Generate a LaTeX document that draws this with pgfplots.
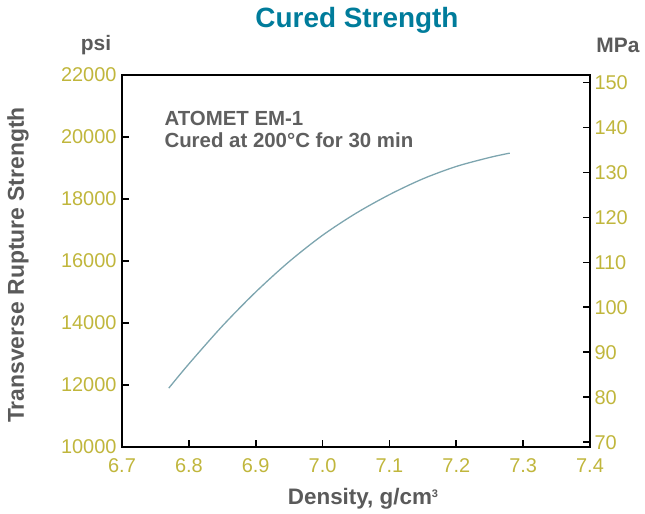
\documentclass[border=0pt]{standalone}
\usepackage{pgfplots}
\pgfplotsset{compat=1.18}
\usepackage{fontspec}
\setmainfont{Liberation Sans}
\definecolor{ticky}{RGB}{192,182,60}
\definecolor{labgray}{RGB}{90,90,90}
\definecolor{notegray}{RGB}{95,95,95}
\definecolor{titleblue}{RGB}{0,124,155}
\definecolor{curve}{RGB}{125,165,175}
\begin{document}
\begin{tikzpicture}
\useasboundingbox (-122bp,-67bp) rectangle (523bp,447bp);
\pgfplotsset{
  every axis/.append style={
    scale only axis, width=468bp, height=372bp,
    at={(0,0)}, anchor=south west,
    axis line style={black, line width=1.8bp},
    major tick style={black, line width=1.8bp},
    major tick length=7bp, tick align=inside,
    minor tick num=0,
    tick label style={font=\fontsize{20}{22}\selectfont, text=ticky},
  }
}
\begin{axis}[
  xmin=6.7, xmax=7.4, ymin=10000, ymax=22000,
  xtick={6.7,6.8,6.9,7.0,7.1,7.2,7.3,7.4},
  xticklabels={6.7,6.8,6.9,7.0,7.1,7.2,7.3,7.4},
  ytick={10000,12000,14000,16000,18000,20000,22000},
  yticklabels={10000,12000,14000,16000,18000,20000,22000},
  xtick pos=bottom, ytick pos=left,
  scaled ticks=false,
  xticklabel style={yshift=-8bp},
  yticklabel style={xshift=-2bp},
]
\addplot[color=curve, line width=1.3bp, smooth] coordinates {
  (6.77, 11900)
  (6.80, 12680)
  (6.85, 13900)
  (6.90, 15000)
  (6.95, 15980)
  (7.00, 16830)
  (7.05, 17540)
  (7.10, 18140)
  (7.15, 18650)
  (7.20, 19050)
  (7.25, 19340)
  (7.28, 19480)
};
\end{axis}
\begin{axis}[
  xmin=6.7, xmax=7.4, ymin=68.948, ymax=151.685,
  hide x axis, axis y line*=right,
  ytick={70,80,90,100,110,120,130,140,150},
  yticklabels={70,80,90,100,110,120,130,140,150},
  yticklabel style={xshift=1bp},
]
\end{axis}
\node[font=\bfseries\fontsize{28}{30}\selectfont, text=titleblue] at (235bp,427bp) {Cured Strength};
\node[font=\bfseries\fontsize{21}{23}\selectfont, text=labgray] at (-26bp,402bp) {psi};
\node[font=\bfseries\fontsize{21}{23}\selectfont, text=labgray] at (496bp,402bp) {MPa};
\node[font=\bfseries\fontsize{22.5}{24}\selectfont, text=labgray] at (241bp,-52bp) {Density, g/cm\raisebox{0.6ex}{\fontsize{11}{12}\selectfont 3}};
\node[font=\bfseries\fontsize{23}{25}\selectfont, text=labgray, rotate=90] at (-104bp,182bp) {Transverse Rupture Strength};
\node[font=\bfseries\fontsize{20.5}{22}\selectfont, text=notegray, anchor=west] at (39bp,329bp) {ATOMET EM-1};
\node[font=\bfseries\fontsize{20.5}{22}\selectfont, text=notegray, anchor=west] at (39bp,307bp) {Cured at 200°C for 30 min};
\end{tikzpicture}
\end{document}
